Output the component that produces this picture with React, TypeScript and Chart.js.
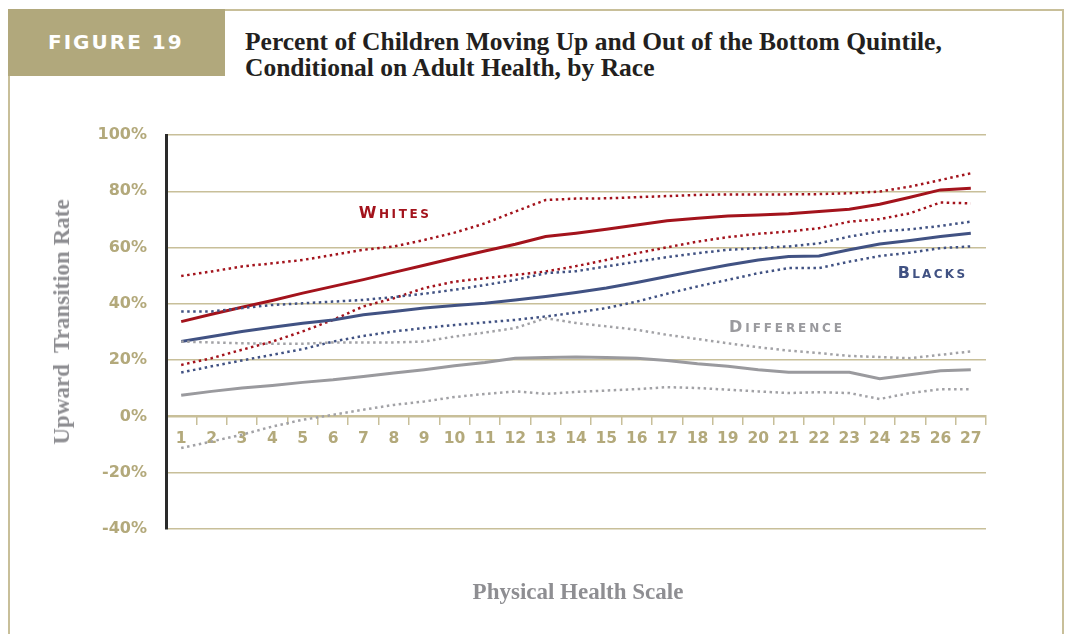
import { useEffect, useRef } from "react";
import { Chart, registerables } from "chart.js";

Chart.register(...registerables);

const categories = ["1", "2", "3", "4", "5", "6", "7", "8", "9", "10", "11", "12", "13", "14", "15", "16", "17", "18", "19", "20", "21", "22", "23", "24", "25", "26", "27"];

const whitesUpper = [49.9, 51.5, 53.3, 54.4, 55.6, 57.4, 59.2, 60.4, 62.7, 65.3, 68.6, 72.8, 76.9, 77.4, 77.5, 77.9, 78.3, 78.7, 78.9, 78.9, 78.9, 79.0, 79.3, 79.9, 81.7, 84.0, 86.4];
const whites = [33.7, 36.3, 38.8, 41.2, 43.8, 46.2, 48.6, 51.2, 53.7, 56.3, 58.8, 61.2, 63.9, 65.1, 66.5, 68.0, 69.5, 70.4, 71.2, 71.6, 72.0, 72.8, 73.6, 75.4, 77.9, 80.5, 81.1];
const whitesLower = [18.3, 20.7, 23.7, 26.6, 30.2, 34.3, 39.1, 42.0, 45.6, 47.9, 49.1, 50.3, 51.5, 53.4, 55.6, 58.0, 60.1, 62.1, 63.7, 64.9, 65.7, 66.9, 69.2, 70.1, 72.2, 76.0, 75.7];

const blacksUpper = [37.3, 37.3, 38.5, 39.6, 40.2, 40.8, 41.4, 42.4, 43.6, 45.0, 46.7, 48.5, 50.9, 51.6, 53.3, 55.0, 56.6, 58.0, 59.2, 59.8, 60.4, 61.5, 63.9, 65.7, 66.5, 67.7, 69.2];
const blacks = [26.6, 28.4, 30.2, 31.7, 33.1, 34.3, 36.1, 37.3, 38.5, 39.4, 40.2, 41.4, 42.6, 44.0, 45.6, 47.6, 49.7, 51.8, 53.8, 55.6, 56.8, 57.0, 59.2, 61.3, 62.5, 63.9, 65.1];
const blacksLower = [15.6, 17.8, 19.9, 21.9, 23.9, 26.6, 28.6, 30.2, 31.4, 32.5, 33.4, 34.3, 35.5, 36.9, 38.5, 40.8, 43.6, 46.2, 48.5, 50.9, 52.7, 52.7, 55.0, 57.0, 58.2, 59.8, 60.4];

const diffUpper = [26.6, 26.3, 26.0, 25.8, 25.8, 26.3, 26.3, 26.3, 26.6, 28.4, 29.8, 31.4, 34.9, 33.2, 32.0, 30.8, 29.0, 27.5, 26.0, 24.6, 23.4, 22.5, 21.5, 21.1, 20.7, 21.9, 23.1];
const difference = [7.5, 8.9, 10.1, 11.0, 12.1, 13.0, 14.2, 15.4, 16.6, 18.0, 19.2, 20.7, 20.9, 21.1, 20.9, 20.7, 19.9, 18.7, 17.8, 16.6, 15.7, 15.7, 15.7, 13.4, 14.8, 16.2, 16.6];
const diffLower = [-11.2, -8.9, -6.5, -3.6, -1.2, 0.6, 2.4, 4.1, 5.3, 6.9, 8.0, 8.9, 8.0, 8.7, 9.2, 9.7, 10.4, 10.1, 9.5, 8.9, 8.3, 8.6, 8.3, 6.2, 8.3, 9.7, 9.7];

const seriesNames = ["Whites", "Blacks", "Difference"];

const RED = "#a3131c";
const NAVY = "#415283";
const GRAY = "#9a9a9e";
const GRAY_DOT = "#a2a2a6";
const TAN = "#c8bf99";
const TAN_TEXT = "#b3a97b";

const labelPlugin = {
  id: "seriesLabels",
  afterDatasetsDraw(chart: any, _args: any, opts: any) {
    const { ctx, scales } = chart;
    const items = opts.items || [];
    ctx.save();
    for (const it of items) {
      const cx = scales.x.getPixelForValue(it.x);
      const cy = scales.y.getPixelForValue(it.y);
      const chars = it.text.toUpperCase().split("");
      const bigFont = 'bold 16px "DejaVu Sans"';
      const smallFont = 'bold 12px "DejaVu Sans"';
      const spacing = it.spacing;
      const widths = chars.map((c: string, i: number) => {
        ctx.font = i === 0 ? bigFont : smallFont;
        return ctx.measureText(c).width;
      });
      const total = widths.reduce((a: number, b: number) => a + b, 0) + spacing * (chars.length - 1);
      let x = cx - total / 2;
      const baseline = cy + 6;
      ctx.fillStyle = it.color;
      ctx.textBaseline = "alphabetic";
      ctx.textAlign = "left";
      chars.forEach((c: string, i: number) => {
        ctx.font = i === 0 ? bigFont : smallFont;
        ctx.fillText(c, x, baseline);
        x += widths[i] + spacing;
      });
    }
    ctx.restore();
  },
};

function line(label: string, data: number[], color: string, dotted: boolean) {
  return {
    label,
    data,
    borderColor: color,
    backgroundColor: color,
    borderWidth: dotted ? 2.5 : 3,
    borderDash: dotted ? [2.5, 3.5] : [],
    pointRadius: 0,
    tension: 0,
    fill: false,
  };
}

export default function App() {
  const canvasRef = useRef<HTMLCanvasElement | null>(null);

  useEffect(() => {
    if (!canvasRef.current) return;
    const chart = new Chart(canvasRef.current, {
      type: "line",
      data: {
        labels: categories,
        datasets: [
          line("Difference upper", diffUpper, GRAY_DOT, true),
          line("Difference lower", diffLower, GRAY_DOT, true),
          line(seriesNames[2], difference, GRAY, false),
          line("Blacks upper", blacksUpper, NAVY, true),
          line("Blacks lower", blacksLower, NAVY, true),
          line(seriesNames[1], blacks, NAVY, false),
          line("Whites upper", whitesUpper, RED, true),
          line("Whites lower", whitesLower, RED, true),
          line(seriesNames[0], whites, RED, false),
        ],
      },
      options: {
        animation: false,
        responsive: false,
        layout: { padding: { left: 0, top: 135, right: 81, bottom: 105 } },
        plugins: {
          legend: { display: false },
          tooltip: { enabled: false },
          seriesLabels: {
            items: [
              { text: seriesNames[0], x: 7, y: 72.8, color: RED, spacing: 2.6 },
              { text: seriesNames[1], x: 24.7, y: 51.2, color: NAVY, spacing: 2.3 },
              { text: seriesNames[2], x: 19.9, y: 32.3, color: GRAY, spacing: 2.9 },
            ],
          },
        } as any,
        scales: {
          x: {
            type: "category",
            position: { y: 0 } as any,
            offset: true,
            grid: {
              display: true,
              drawOnChartArea: false,
              drawTicks: true,
              tickLength: 8,
              color: TAN,
              lineWidth: 1.5,
              offset: true,
            },
            border: { display: true, color: TAN, width: 2 },
            ticks: {
              color: TAN_TEXT,
              font: { family: '"DejaVu Sans"', size: 15.5, weight: "bold" },
              padding: 5,
              maxRotation: 0,
              autoSkip: false,
            },
          },
          y: {
            min: -40,
            max: 100,
            afterFit: (scale: any) => {
              scale.width = 166;
            },
            grid: { color: TAN, lineWidth: 1.5, drawTicks: false },
            border: { display: true, color: "#2a2a2a", width: 3 },
            ticks: {
              stepSize: 20,
              color: TAN_TEXT,
              font: { family: '"DejaVu Sans"', size: 16, weight: "bold" },
              padding: 19,
              callback: (v: any) => `${v}%`,
            },
          },
        },
      },
      plugins: [labelPlugin],
    });
    return () => chart.destroy();
  }, []);

  return (
    <div style={{ position: "absolute", left: 0, top: 0, width: 1067, height: 634, background: "#fff", overflow: "hidden" }}>
      <div style={{ position: "absolute", left: 225, top: 9, width: 839, height: 2, background: TAN }} />
      <div style={{ position: "absolute", left: 1062, top: 9, width: 2, height: 625, background: TAN }} />
      <div style={{ position: "absolute", left: 8, top: 75, width: 2, height: 559, background: TAN }} />
      <div style={{ position: "absolute", left: 8, top: 9, width: 217, height: 67, background: "#b1a87c" }} />
      <div
        style={{
          position: "absolute",
          left: 48,
          top: 30,
          color: "#fff",
          font: 'bold 20px "DejaVu Sans"',
          letterSpacing: "2px",
          whiteSpace: "nowrap",
        }}
      >
        FIGURE 19
      </div>
      <div
        style={{
          position: "absolute",
          left: 245,
          top: 29,
          color: "#231f20",
          font: 'bold 25.5px "Liberation Serif"',
          lineHeight: "26px",
          whiteSpace: "nowrap",
        }}
      >
        Percent of Children Moving Up and Out of the Bottom Quintile,
        <br />
        Conditional on Adult Health, by Race
      </div>
      <canvas ref={canvasRef} width={1067} height={634} style={{ position: "absolute", left: 0, top: 0, width: 1067, height: 634 }} />
      <div
        style={{
          position: "absolute",
          left: 62,
          top: 322,
          transform: "translate(-50%, -50%) rotate(-90deg)",
          color: "#8e8e92",
          font: 'bold 23px "Liberation Serif"',
          whiteSpace: "pre",
        }}
      >
        {"Upward  Transition Rate"}
      </div>
      <div
        style={{
          position: "absolute",
          left: 578,
          top: 592,
          transform: "translate(-50%, -50%)",
          color: "#8e8e92",
          font: 'bold 23px "Liberation Serif"',
          whiteSpace: "nowrap",
        }}
      >
        Physical Health Scale
      </div>
    </div>
  );
}
